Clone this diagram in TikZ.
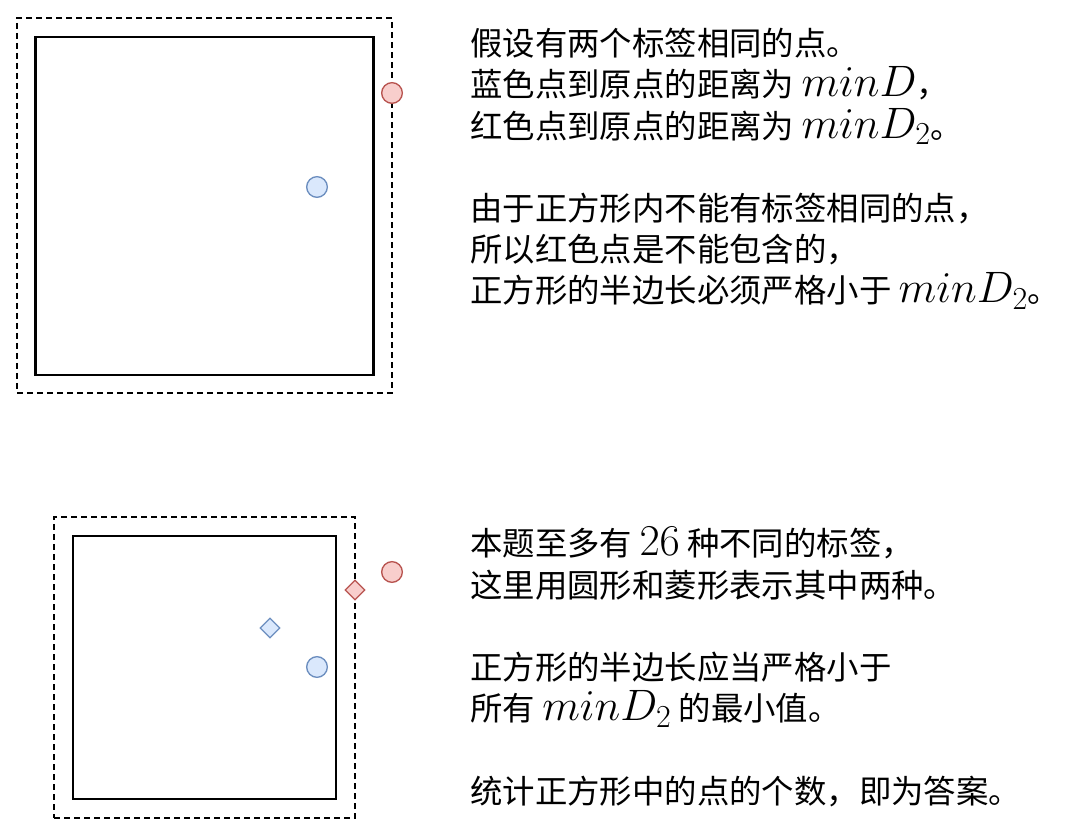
\RequirePackage{fix-cm}
\documentclass[tikz,border=0pt]{standalone}
\usepackage{fontspec}
\setmainfont{Noto Sans CJK SC}
\usetikzlibrary{positioning,shapes.geometric}
\definecolor{cBlueFill}{HTML}{DAE8FC}
\definecolor{cBlueLine}{HTML}{6C8EBF}
\definecolor{cRedFill}{HTML}{F8CECC}
\definecolor{cRedLine}{HTML}{B85450}
\tikzset{
  sq/.style={draw, line width=1.6pt, inner sep=0pt},
  sqdash/.style={draw, line width=1.2pt, dash pattern=on 4.5pt off 3pt, inner sep=0pt},
  dot/.style={circle, line width=1pt, minimum size=15.5pt, inner sep=0pt},
  dia/.style={diamond, line width=1pt, minimum size=15pt, inner sep=0pt},
  bluept/.style={draw=cBlueLine, fill=cBlueFill},
  redpt/.style={draw=cRedLine, fill=cRedFill},
  txt/.style={font=\fontsize{24.3pt}{30.9pt}\selectfont, align=left, inner sep=0pt},
}
\DeclareMathSizes{33}{33}{24}{17}
\newcommand{\mathtxt}[1]{{\fontsize{33}{30.9pt}\selectfont$#1$}}

\begin{document}
\begin{tikzpicture}[x=0.75pt, y=-0.75pt]
  \useasboundingbox (0,0) rectangle (1079,830);
  % upper picture: one label, two points
  \node[sqdash, minimum size=281.25pt] (outerA) at (204.5,205.5) {};
  \node[sq, minimum size=253.5pt] (innerA) at (204.5,206) {};
  \node[dot, redpt] (redA) at (392,93) {};
  \node[dot, bluept] (blueA) at (317,187) {};
  \node[txt, anchor=base west] (textA) at (470,303)
    {假设有两个标签相同的点。\\
     蓝色点到原点的距离为 \mathtxt{minD}，\\
     红色点到原点的距离为 \mathtxt{minD_2}。\\[30.9pt]
     由于正方形内不能有标签相同的点，\\
     所以红色点是不能包含的，\\
     正方形的半边长必须严格小于 \mathtxt{minD_2}。};
  % lower picture: two labels
  \node[sqdash, minimum size=225.75pt] (outerB) at (204.5,667.5) {};
  \node[sq, minimum size=197.25pt] (innerB) at (204.5,667.5) {};
  \node[dot, redpt] (redB) at (392,572) {};
  \node[dia, redpt] (redDia) at (355,590) {};
  \node[dia, bluept] (blueDia) at (270,628) {};
  \node[dot, bluept] (blueB) at (317,667) {};
  \node[txt, anchor=base west] (textB) at (470,803)
    {本题至多有 \mathtxt{26} 种不同的标签，\\
     这里用圆形和菱形表示其中两种。\\[30.9pt]
     正方形的半边长应当严格小于\\
     所有 \mathtxt{minD_2} 的最小值。\\[30.9pt]
     统计正方形中的点的个数，即为答案。};
\end{tikzpicture}
\end{document}
